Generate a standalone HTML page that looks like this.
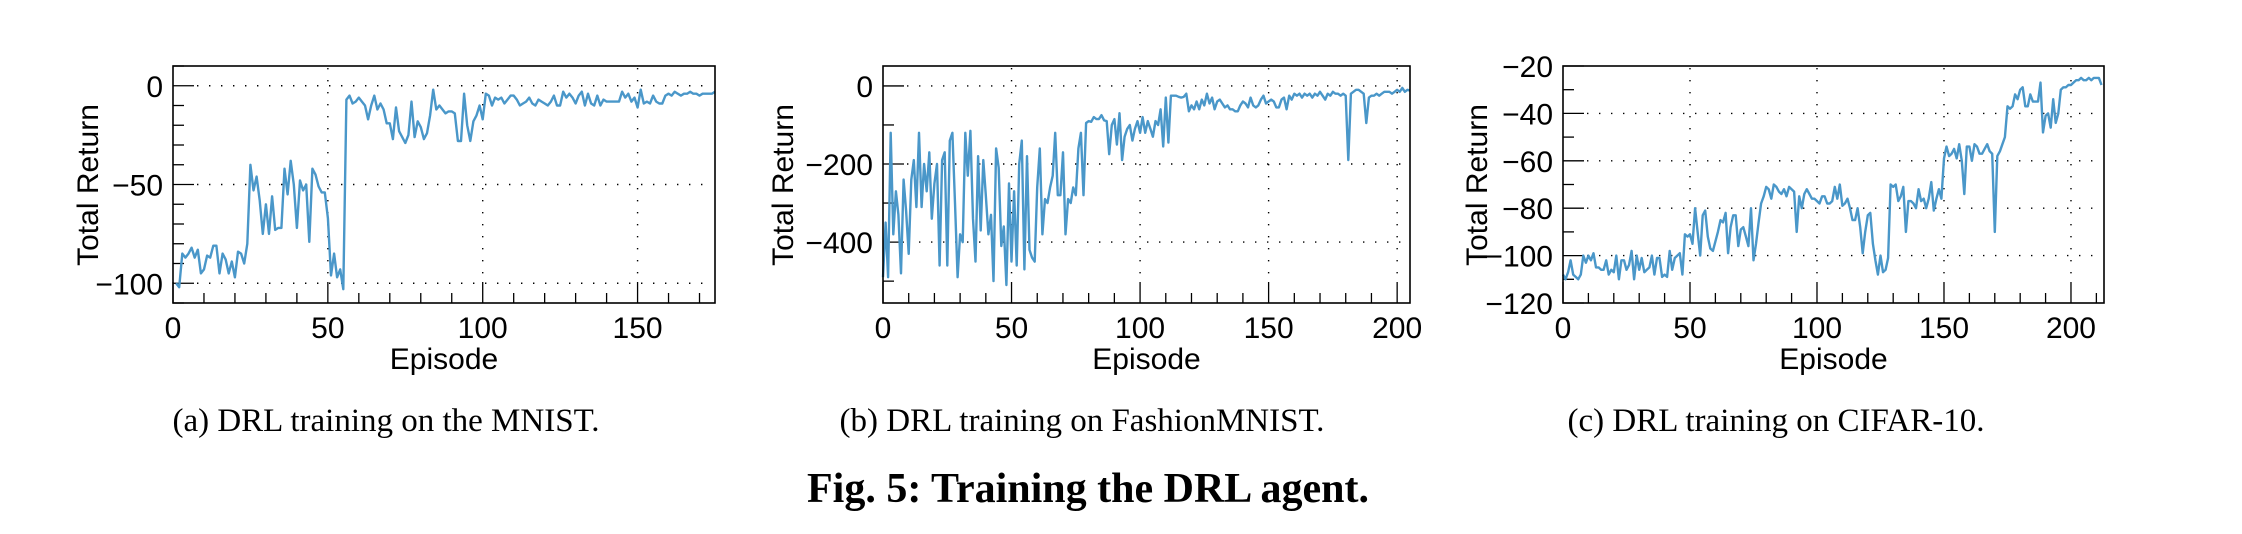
<!DOCTYPE html>
<html><head><meta charset="utf-8">
<style>
html,body{margin:0;padding:0;background:#fff;}
svg{display:block;}
.tick{font-family:"Liberation Sans",Arial,sans-serif;font-size:30px;fill:#000;}
.cap{font-family:"Liberation Serif","Times New Roman",serif;font-size:33px;fill:#000;}
.fig{font-family:"Liberation Serif","Times New Roman",serif;font-size:42px;font-weight:bold;fill:#000;}
</style></head>
<body>
<svg id="root" width="2242" height="534" viewBox="0 0 2242 534" xmlns="http://www.w3.org/2000/svg">
<text class="cap" x="386" y="431" text-anchor="middle">(a) DRL training on the MNIST.</text>
<text class="cap" x="1082" y="431" text-anchor="middle">(b) DRL training on FashionMNIST.</text>
<text class="cap" x="1776" y="431" text-anchor="middle">(c) DRL training on CIFAR-10.</text>
<text class="fig" x="1088" y="502" text-anchor="middle">Fig. 5: Training the DRL agent.</text>
</svg>
<script>
// ---- Chart A (MNIST) data ----
const mnistStart = 1;
const mnistReturns = [-100,-102,-85,-87,-85,-82,-87,-83,-95,-93,-86,-87,-81,-81,-95,-85,-88,-95,-89,-97,-84,-85,-90,-80,-40,-53,-46,-58,-75,-60,-75,-56,-73,-72,-72,-42,-55,-38,-50,-72,-48,-53,-50,-79,-42,-45,-51,-54,-54,-67,-96,-85,-97,-93,-103,-7,-5,-9,-8,-6,-8,-10,-17,-10,-5,-12,-9,-12,-19,-19,-27,-11,-23,-26,-29,-25,-8,-26,-18,-21,-27,-24,-15,-2,-12,-10,-12,-14,-13,-13,-14,-28,-28,-4,-20,-28,-18,-15,-10,-17,-4,-5,-10,-6,-7,-6,-9,-7,-5,-5,-7,-10,-9,-8,-6,-9,-10,-7,-8,-9,-10,-8,-5,-10,-10,-3,-6,-4,-6,-9,-5,-3,-10,-4,-9,-10,-5,-10,-7,-8,-8,-8,-8,-8,-3,-6,-4,-8,-6,-11,-2,-9,-8,-9,-5,-8,-9,-9,-5,-4,-5,-3,-4,-5,-4,-4,-3,-4,-4,-5,-4,-4,-4,-4,-3];
const mnistXTicks = [0,50,100,150];
const mnistYTicks = [0,-50,-100];

// ---- Chart B (FashionMNIST) data ----
const fashionStart = 0;
const fashionReturns = [-490,-350,-490,-120,-380,-270,-330,-480,-240,-320,-430,-240,-190,-310,-120,-310,-200,-270,-170,-340,-250,-200,-460,-190,-170,-460,-140,-120,-300,-490,-380,-400,-120,-230,-115,-340,-450,-180,-370,-190,-280,-380,-330,-500,-160,-210,-410,-360,-510,-250,-450,-270,-460,-200,-140,-470,-180,-420,-440,-450,-260,-160,-380,-290,-300,-260,-230,-120,-280,-280,-170,-380,-290,-300,-260,-280,-160,-120,-280,
-95,-90,-92,-80,-85,-85,-75,-88,-90,-175,-100,-85,-150,-70,-190,-130,-110,-100,-140,-110,-90,-120,-80,-120,-90,-110,-130,-90,-100,-60,-155,-30,-145,
-25,-25,-25,-28,-30,-28,-20,-65,-50,-60,-40,-60,-35,-50,-20,-45,-30,-60,-40,-35,-45,-55,-50,-60,-60,-65,-65,-50,-40,-45,-55,-30,-50,-55,-50,-35,-25,-45,-40,-35,-40,-55,-55,-35,-30,-60,-25,-35,-20,-25,-20,-30,-20,-25,-20,-30,-20,-25,-15,-25,-35,-20,-25,-15,-20,-20,-25,-20,-25,
-190,-20,-15,-10,-10,-15,-20,-95,-30,-25,-25,-20,-25,-20,-15,-15,-15,-20,-15,-10,-15,-5,-15,-10,-12];
const fashionXTicks = [0,50,100,150,200];
const fashionYTicks = [0,-200,-400];

// ---- Chart C (CIFAR-10) data ----
const cifarStart = 0;
const cifarReturns = [-108,-110,-107,-102,-108,-109,-110,-108,-100,-103,-100,-102,-99,-105,-105,-106,-106,-102,-108,-106,-107,-100,-110,-102,-102,-106,-104,-98,-110,-100,-106,-101,-107,-106,-105,-100,-108,-101,-101,-109,-108,-109,-98,-106,-101,-100,-99,-108,-91,-92,-91,-95,-80,-90,-100,-83,-81,-92,-97,-98,-94,-90,-85,-86,-82,-99,-88,-83,-83,-96,-89,-88,-92,-96,-80,-102,-95,-86,-78,-75,-71,-72,-76,-70,-71,-73,-74,-72,-75,-71,-72,-73,-90,-75,-80,-74,-72,-74,-76,-76,-77,-78,-75,-75,-78,-78,-77,-71,-76,-70,-79,-78,-76,-80,-85,-85,-80,-88,-99,-90,-83,-82,-95,-102,-108,-100,-107,-106,-101,-70,-71,-70,-77,-75,-71,-90,-77,-77,-78,-80,-72,-77,-76,-80,-76,-69,-81,-76,-72,-76,-59,-54,-58,-57,-55,-59,-53,-60,-74,-54,-54,-60,-53,-54,-57,-57,-55,-53,-56,-57,-90,-58,-56,-53,-50,-37,-38,-37,-32,-34,-30,-29,-37,-37,-32,-35,-35,-35,-27,-48,-41,-40,-46,-34,-44,-40,-30,-29,-29,-28,-28,-27,-26,-26,-25,-26,-26,-25,-26,-25,-25,-25,-28];
const cifarXTicks = [0,50,100,150,200];
const cifarYTicks = [-20,-40,-60,-80,-100,-120];

const NS = 'http://www.w3.org/2000/svg';
const root = document.getElementById('root');
function mk(tag, attrs, parent){
  const e = document.createElementNS(NS, tag);
  for (const k in attrs) e.setAttribute(k, attrs[k]);
  (parent||root).appendChild(e);
  return e;
}

function drawChart(id, box, xDom, yDom, xTicks, xMinorStep, yTicks, yMinorStep, start, values, titleX, yLabelX){
  const [L,T,R,B] = box;
  const sx = v => L + (v - xDom[0]) / (xDom[1] - xDom[0]) * (R - L);
  const sy = v => B - (v - yDom[0]) / (yDom[1] - yDom[0]) * (B - T);
  const g = mk('g', {});
  
  
  // grid
  xTicks.forEach(t => {
    const X = sx(t);
    if (X <= L + 1 || X >= R - 1) return;
    const gl = mk('line', {x1:X, x2:X, y1:T+2, y2:B-22, stroke:'#000', 'stroke-width':1.4, 'stroke-dasharray':'1.4 10.6'}, g);
    
    
  });
  yTicks.forEach(t => {
    const Y = sy(t);
    if (Y <= T + 1 || Y >= B - 1) return;
    const gl = mk('line', {x1:L+24, x2:R-2, y1:Y, y2:Y, stroke:'#000', 'stroke-width':1.4, 'stroke-dasharray':'1.4 10.6'}, g);
    
    
  });
  // minor ticks
  for (let v = Math.ceil(xDom[0]/xMinorStep)*xMinorStep; v <= xDom[1]; v += xMinorStep) {
    const X = sx(v);
    const major = xTicks.includes(v);
    const tk = mk('line', {x1:X, x2:X, y1:B, y2:B-(major?21:10), stroke:'#000', 'stroke-width':1.3}, g);
    
    
  }
  for (let v = Math.ceil(yDom[0]/yMinorStep)*yMinorStep; v <= yDom[1]; v += yMinorStep) {
    const Y = sy(v);
    const major = yTicks.includes(v);
    const tk = mk('line', {x1:L, x2:L+(major?21:11), y1:Y, y2:Y, stroke:'#000', 'stroke-width':1.3}, g);
    
    
  }
  // series
  let d = '';
  values.forEach((v, i) => { d += (i ? 'L' : 'M') + sx(start + i).toFixed(1) + ' ' + sy(v).toFixed(1); });
  const p = mk('path', {d:d, fill:'none', stroke:'#4a97c9', 'stroke-width':2.4, 'stroke-linejoin':'round'}, g);
  
  
  // frame
  const fr = mk('rect', {x:L, y:T, width:R-L, height:B-T, fill:'none', stroke:'#000', 'stroke-width':1.6}, g);
  
  
  // labels
  xTicks.forEach(t => {
    const tx = mk('text', {x:sx(t), y:338, 'text-anchor':'middle', class:'tick'}, g);
    tx.textContent = String(t);
    
    
  });
  yTicks.forEach(t => {
    const tx = mk('text', {x:L-10, y:sy(t)+11, 'text-anchor':'end', class:'tick'}, g);
    tx.textContent = t < 0 ? '\u2212' + Math.abs(t) : String(t);
    
    
  });
  const xl = mk('text', {x:(L+R)/2, y:369, 'text-anchor':'middle', class:'tick'}, g);
  xl.textContent = 'Episode';
  
  
  const yl = mk('text', {x:0, y:0, 'text-anchor':'middle', class:'tick', transform:'translate(' + yLabelX + ',185) rotate(-90)'}, g);
  yl.textContent = 'Total Return';
  
  
}

drawChart('mnist', [173,66,715,303], [0,175], [-110,10], mnistXTicks, 10, mnistYTicks, 10, mnistStart, mnistReturns, 0, 98);
drawChart('fashion', [883,66,1410,303], [0,205], [-556,51], fashionXTicks, 10, fashionYTicks, 100, fashionStart, fashionReturns, 0, 793);
drawChart('cifar', [1563,66,2104,303], [0,213], [-120,-20], cifarXTicks, 10, cifarYTicks, 10, cifarStart, cifarReturns, 0, 1487);
</script>
</body></html>
